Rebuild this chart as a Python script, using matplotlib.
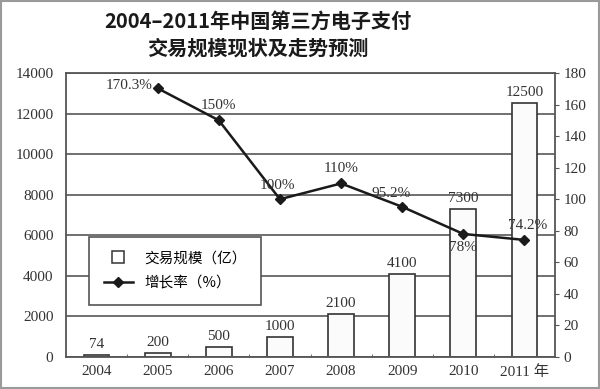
import matplotlib.pyplot as plt
from matplotlib.patches import Rectangle
from matplotlib.lines import Line2D
import numpy as np

years = ["2004", "2005", "2006", "2007", "2008", "2009", "2010", "2011 年"]
volume = [74, 200, 500, 1000, 2100, 4100, 7300, 12500]          # 交易规模（亿）
growth_years = ["2005", "2006", "2007", "2008", "2009", "2010", "2011 年"]
growth = [170.3, 150, 100, 110, 95.2, 78, 74.2]                  # 增长率（%）
growth_labels = ["170.3%", "150%", "100%", "110%", "95.2%", "78%", "74.2%"]

SERIF = ["Liberation Serif", "Noto Sans CJK SC", "DejaVu Sans"]
SANS = ["Noto Sans CJK SC", "DejaVu Sans"]

fig = plt.figure(figsize=(6, 3.89), dpi=100)
fig.patches.append(Rectangle((0.002, 0.003), 0.996, 0.994, transform=fig.transFigure,
                             fill=False, ec="#9a9a9a", lw=1.5))

ax = fig.add_axes([66/600, 1-357/389, 489/600, 284/389])
x = np.arange(len(years))
ax.bar(x, volume, width=0.42, color="#fbfbfb", edgecolor="#333333", lw=1.2, zorder=2)
ax.set_xlim(-0.5, len(years) - 0.5)
ax.set_ylim(0, 14000)
ax.set_yticks(range(0, 14001, 2000))
ax.set_axisbelow(True)
ax.yaxis.grid(True, color="#707070", lw=1.4)
ax.set_xticks(x)
ax.set_xticklabels(years, family=SERIF, fontsize=11, color="#333333")
ax.set_xticks(np.arange(0.5, len(years) - 1, 1), minor=True)
ax.tick_params(axis="x", which="major", length=0, pad=6)
ax.tick_params(axis="x", which="minor", length=2, direction="in", color="#555555")
ax.tick_params(axis="y", length=0, pad=9, labelsize=11, labelcolor="#333333")
for lab in ax.get_yticklabels():
    lab.set_family(SERIF)
for s in ax.spines.values():
    s.set_color("#555555")
    s.set_linewidth(1.3)

for xi, v in zip(x, volume):
    ax.annotate(str(v), (xi, v), xytext=(0, 3), textcoords="offset points",
                ha="center", va="bottom", family=SERIF, fontsize=11, color="#333333")

ax2 = ax.twinx()
gx = [years.index(y) for y in growth_years]
ax2.plot(gx, growth, color="#1a1a1a", lw=1.8, marker="D", ms=5, zorder=3)
ax2.set_ylim(0, 180)
ax2.set_yticks(range(0, 181, 20))
ax2.tick_params(axis="y", length=3, direction="out", pad=3, labelsize=11,
                labelcolor="#333333", color="#555555")
for lab in ax2.get_yticklabels():
    lab.set_family(SERIF)
for s in ax2.spines.values():
    s.set_visible(False)

offsets = [(-4, 2, "right", "center"), (0, 6, "center", "bottom"), (-2, 5, "center", "bottom"),
           (0, 6, "center", "bottom"), (-8, 5, "center", "bottom"), (0, -5, "center", "top"),
           (2, 6, "center", "bottom")]
for xi, g, lab, (dx, dy, ha, va) in zip(gx, growth, growth_labels, offsets):
    ax2.annotate(lab, (xi, g), xytext=(dx, dy), textcoords="offset points",
                 ha=ha, va=va, family=SERIF, fontsize=11, color="#333333")

handles = [Line2D([], [], ls="none", marker="s", ms=9, mfc="white", mec="#333333", mew=1.1),
           Line2D([], [], color="#1a1a1a", lw=1.8, marker="D", ms=5)]
leg = ax2.legend(handles, ["交易规模（亿）", "增长率（%）"], loc="lower left",
                 bbox_to_anchor=(0.047, 0.183), borderaxespad=0, fancybox=False, framealpha=1,
                 edgecolor="#555555", prop={"family": SANS, "size": 10.5},
                 borderpad=1.0, labelspacing=0.75, handlelength=2.0, handletextpad=0.8)
leg.get_frame().set_linewidth(1.2)

fig.text(0.43, 0.972, "2004–2011年中国第三方电子支付\n交易规模现状及走势预测", ha="center", va="top",
         family=SANS, fontsize=14.5, fontweight="bold", color="#1a1a1a", linespacing=1.35)

fig.savefig("out.png", dpi=100)
